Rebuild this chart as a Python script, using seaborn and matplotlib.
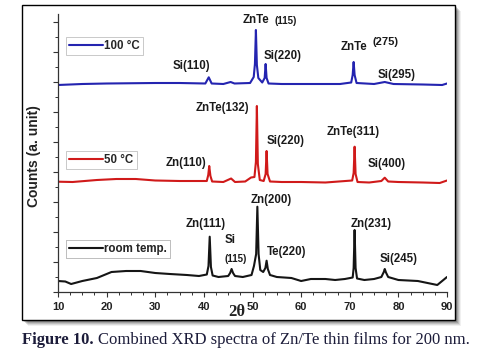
import numpy as np
import pandas as pd
import matplotlib
matplotlib.use("Agg")
import matplotlib.pyplot as plt
from matplotlib.patches import Rectangle
from matplotlib.ticker import MultipleLocator, NullFormatter
import seaborn as sns

# XRD traces (2theta, counts with vertical offset)
room_theta = [10, 11.5, 12.7, 15, 18, 21, 24, 27, 30, 33, 36.5, 39, 40.6, 40.95, 41.2, 41.45, 41.8,
              43, 45, 45.4, 45.7, 46.0, 46.4, 48, 49.8, 50.3, 50.75, 51, 51.25, 51.6, 52.2, 52.65,
              52.9, 53.15, 53.6, 55, 58, 60, 62, 65, 67, 69, 70.6, 70.8, 71, 71.2, 71.5, 73, 75,
              76.5, 77.0, 77.2, 77.45, 77.9, 80, 84, 88, 89, 90]
room_counts = [110, 105, 80, 110, 140, 200, 210, 210, 190, 180, 170, 160, 175, 260, 553, 250, 165,
               150, 160, 190, 230, 190, 160, 150, 170, 260, 380, 853, 380, 220, 200, 240,
               313, 230, 170, 150, 140, 110, 130, 130, 120, 130, 145, 240, 620, 240, 135, 120, 130,
               150, 200, 230, 195, 150, 120, 110, 70, 110, 150]

c50_theta = [10, 13, 18, 22, 26, 30, 35, 40.6, 40.9, 41.1, 41.35, 41.7, 44, 45.6, 46.4, 48.5, 49.7,
             50.4, 50.7, 50.9, 51.1, 51.5, 52.3, 52.7, 52.9, 53.1, 53.6, 56, 60, 65, 70.5, 70.8,
             71, 71.2, 71.6, 74, 76.5, 77.2, 77.9, 80, 85, 88.5, 90]
c50_counts = [1103, 1100, 1120, 1130, 1130, 1115, 1110, 1110, 1170, 1260, 1160, 1105, 1100, 1135,
              1100, 1105, 1145, 1150, 1300, 1860, 1280, 1120, 1110, 1180, 1410, 1180, 1105, 1100,
              1100, 1095, 1115, 1190, 1453, 1180, 1100, 1095, 1110, 1143, 1105, 1100, 1095, 1090,
              1115]

c100_theta = [10, 15, 20, 30, 35, 40.3, 41, 41.6, 44, 45.5, 46.3, 49.5, 50.25, 50.5, 50.7, 50.9,
              51.2, 52, 52.5, 52.7, 52.9, 53.3, 56, 62, 68, 70.3, 70.6, 70.8, 71.0, 71.4, 75, 77.2,
              79, 85, 89, 90]
c100_counts = [2070, 2080, 2085, 2090, 2090, 2085, 2147, 2085, 2080, 2100, 2085, 2090, 2150, 2280,
               2620, 2270, 2140, 2095, 2140, 2280, 2140, 2085, 2080, 2080, 2080, 2095, 2170, 2300,
               2170, 2090, 2080, 2100, 2080, 2075, 2070, 2085]

x_ticks = [10, 20, 30, 40, 50, 60, 70, 80, 90]

W, H = 485, 359
sns.set_theme(style="ticks")
plt.rcParams["font.family"] = ["Liberation Sans", "DejaVu Sans"]

fig = plt.figure(figsize=(W / 100, H / 100), dpi=100)
ax = fig.add_axes([58 / W, 1 - 292 / H, (447 - 58) / W, (292 - 14) / H])

df_room = pd.DataFrame({"theta": room_theta, "counts": room_counts})
df_50 = pd.DataFrame({"theta": c50_theta, "counts": c50_counts})
df_100 = pd.DataFrame({"theta": c100_theta, "counts": c100_counts})

sns.lineplot(data=df_room, x="theta", y="counts", ax=ax, color="#151515", lw=1.5, sort=False, estimator=None)
sns.lineplot(data=df_50, x="theta", y="counts", ax=ax, color="#d01a1a", lw=1.5, sort=False, estimator=None)
sns.lineplot(data=df_100, x="theta", y="counts", ax=ax, color="#2424b0", lw=1.5, sort=False, estimator=None)
lines = ax.get_lines()

ax.set_xlim(10, 90)
ax.set_ylim(0, 2780)
ax.set_xticks(x_ticks)
ax.xaxis.set_minor_locator(MultipleLocator(2.5))
ax.yaxis.set_major_locator(MultipleLocator(300))
ax.yaxis.set_minor_locator(MultipleLocator(150))
ax.yaxis.set_major_formatter(NullFormatter())
ax.tick_params(axis="both", which="major", direction="out", length=3.5, width=0.8, color="#333333")
ax.tick_params(axis="both", which="minor", direction="out", length=2, width=0.7, color="#333333")
for lab in ax.get_xticklabels():
    lab.set_fontweight("bold")
    lab.set_fontsize(8)
    lab.set_color("#222222")
ax.tick_params(axis="x", pad=4)
sns.despine(ax=ax)
for s in ["left", "bottom"]:
    ax.spines[s].set_color("#333333")
    ax.spines[s].set_linewidth(0.9)

ax.set_xlabel("")
ax.set_ylabel("Counts (a. unit)", fontsize=10, fontweight="bold", color="#222222")
ax.yaxis.set_label_coords(-0.044, 0.49)
ax.text(0.46, -0.072, "2θ", transform=ax.transAxes, ha="center", va="center",
        fontsize=12, fontweight="bold", family="Liberation Serif", color="#222222")

# legends, one per trace
leg_specs = [(lines[2], "100 °C", 0.885), (lines[1], "50 °C", 0.475), (lines[0], "room temp.", 0.155)]
for h, lab, yy in leg_specs:
    leg = ax.legend([h], [lab], loc="center left", bbox_to_anchor=(0.02, yy), frameon=True,
                    fancybox=False, handlelength=3.0, handletextpad=0.1, borderpad=0.25,
                    borderaxespad=0, prop={"weight": "bold", "size": 8.3})
    leg.get_frame().set_edgecolor("#b0b0b0")
    leg.get_frame().set_linewidth(0.6)
    ax.add_artist(leg)

# peak labels
def px2d(px, py):
    return 10 + (px - 58) / 4.8625, (292 - py) * 10

labels = [
    ("ZnTe", 256, 20, 8.3), ("(115)", 286, 21, 7.0),
    ("Si(220)", 283, 56, 8.3), ("Si(110)", 191, 66, 8.3),
    ("ZnTe", 354, 47, 8.3), ("(275)", 385, 42, 8.0), ("Si(295)", 397, 75, 8.3),
    ("ZnTe(132)", 222, 108, 8.3), ("ZnTe(311)", 353, 132, 8.3), ("Si(220)", 286, 141, 8.3),
    ("Zn(110)", 186, 163, 8.3), ("Si(400)", 387, 164, 8.3),
    ("Zn(200)", 271, 200, 8.3), ("Zn(111)", 206, 224, 8.3), ("Si", 230, 240, 8.3),
    ("(115)", 236, 259, 7.0), ("Te(220)", 287, 252, 8.3), ("Zn(231)", 371, 224, 8.3),
    ("Si(245)", 399, 259, 8.3),
]
for txt, px, py, fs in labels:
    xd, yd = px2d(px, py)
    ax.text(xd, yd, txt, ha="center", va="center", fontsize=fs, fontweight="bold", color="#1a1a1a")

# outer frame with soft shadow
x0, y0, x1, y1 = 22, 5, 455, 320
for i, a in zip(range(6, 0, -1), [0.06, 0.09, 0.12, 0.15, 0.18, 0.2]):
    fig.patches.append(Rectangle(((x0 + i) / W, 1 - (y1 + i) / H), (x1 - x0) / W, (y1 - y0) / H,
                                 transform=fig.transFigure, facecolor="#000000", edgecolor="none",
                                 alpha=a, zorder=-3))
fig.patches.append(Rectangle((x0 / W, 1 - y1 / H), (x1 - x0) / W, (y1 - y0) / H,
                             transform=fig.transFigure, facecolor="white", edgecolor="black",
                             lw=1.0, zorder=-2))
ax.set_facecolor("none")

# caption
cap_col = "#1c1c3a"
t1 = fig.text(22 / W, 1 - 340 / H, "Figure 10.", ha="left", va="center", fontsize=12,
              fontweight="bold", family="Liberation Serif", color=cap_col)
fig.canvas.draw()
bb = t1.get_window_extent()
fig.text((bb.x1 + 4) / W, 1 - 340 / H, "Combined XRD spectra of Zn/Te thin films for 200 nm.",
         ha="left", va="center", fontsize=12, family="Liberation Serif", color=cap_col)

fig.savefig("out.png", dpi=100, facecolor="white")
